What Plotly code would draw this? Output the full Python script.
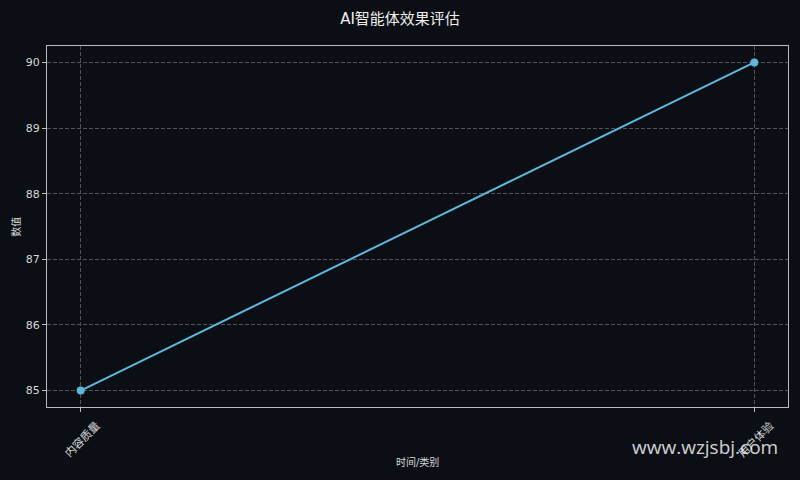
import plotly.graph_objects as go

# 数据
categories = ["内容质量", "用户体验"]
values = [85, 90]

bg = "#0b0e14"
text_color = "#d8d8d8"
font_family = "DejaVu Sans, Noto Sans CJK SC"

fig = go.Figure()
fig.add_trace(go.Scatter(
    x=categories, y=values,
    mode="lines+markers",
    line=dict(color="#5fb8da", width=2),
    marker=dict(color="#5fb8da", size=8),
))

fig.update_layout(
    width=800, height=480,
    paper_bgcolor=bg, plot_bgcolor=bg,
    margin=dict(l=47, r=12, t=46, b=73),
    showlegend=False,
    font=dict(family=font_family, color=text_color, size=11),
    title=dict(text="AI智能体效果评估", x=0.5, xanchor="center", y=0.96, yanchor="middle",
               font=dict(size=15, color="#eeeeee")),
)

fig.update_xaxes(
    type="category", range=[-0.05, 1.05], automargin=False,
    showline=True, mirror=True, linecolor="#bbbbbb", linewidth=1,
    showgrid=True, gridcolor="#505357", griddash="4px,2px", gridwidth=1,
    ticks="outside", ticklen=4, tickcolor="#bbbbbb",
    tickangle=-45, tickfont=dict(size=11),
    ticklabelshift=16, ticklabelstandoff=3,
    zeroline=False,
)
fig.update_yaxes(
    range=[84.75, 90.25], dtick=1, automargin=False,
    showline=True, mirror=True, linecolor="#bbbbbb", linewidth=1,
    showgrid=True, gridcolor="#505357", griddash="4px,2px", gridwidth=1,
    ticks="outside", ticklen=4, tickcolor="#bbbbbb",
    tickfont=dict(size=11),
    zeroline=False,
)

# 轴标题
fig.add_annotation(text="时间/类别", xref="paper", yref="paper", x=0.5, y=-0.152,
                   xanchor="center", yanchor="middle", showarrow=False, font=dict(size=10))
fig.add_annotation(text="数值", xref="paper", yref="paper", x=-0.043, y=0.5, textangle=-90,
                   xanchor="center", yanchor="middle", showarrow=False, font=dict(size=10))

# 水印
fig.add_annotation(
    text="www.wzjsbj.com", xref="paper", yref="paper",
    x=0.989, y=-0.111, xanchor="right", yanchor="middle",
    showarrow=False, font=dict(size=19, color="rgba(235,235,235,0.9)", family="Open Sans, DejaVu Sans"),
)

# 去掉页面边距
fig.write_html("out.html", config={"displayModeBar": False},
               post_script="document.body.style.margin='0';document.body.style.background='%s';" % bg)
